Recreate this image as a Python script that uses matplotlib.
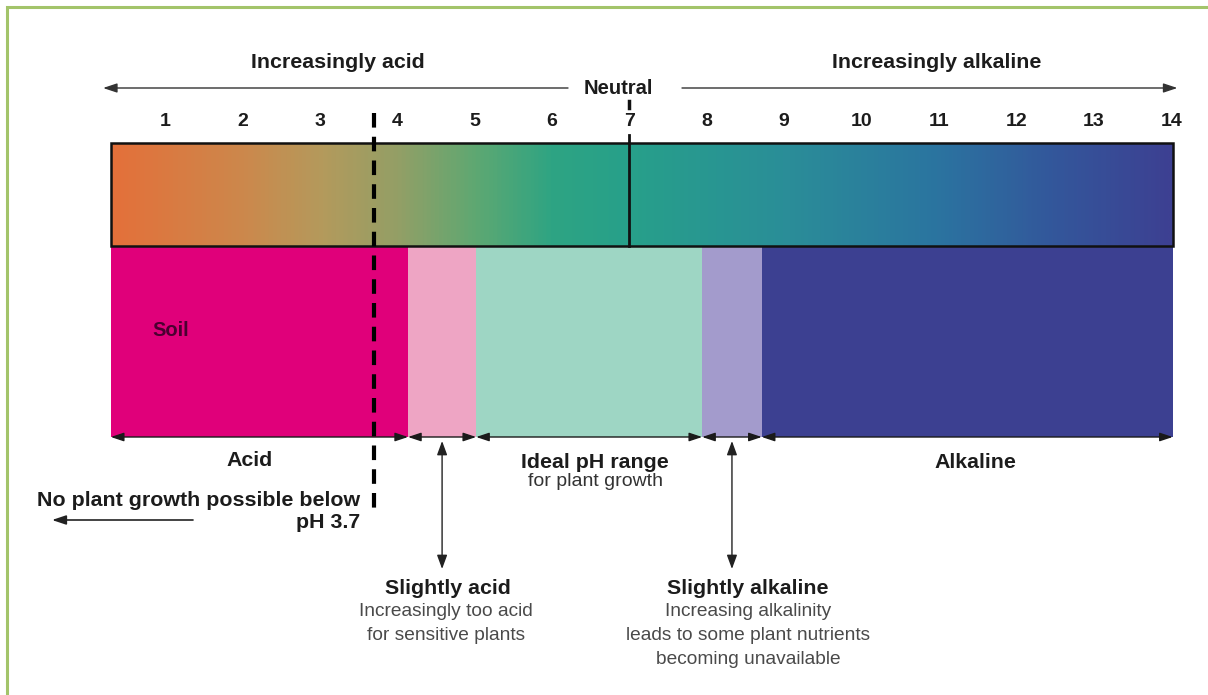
import numpy as np
import matplotlib
matplotlib.use("Agg")
import matplotlib.pyplot as plt
from matplotlib.colors import LinearSegmentedColormap
from matplotlib.patches import Rectangle

plt.rcParams['font.family'] = ['Liberation Sans', 'DejaVu Sans']

# pH scale numbers
ph_ticks = list(range(1, 15))

# soil bands along the pH axis
band_names  = ["Acid", "Slightly acid", "Ideal", "Slightly alkaline", "Alkaline"]
band_edges  = [0.3, 4.14, 5.02, 7.94, 8.71, 14.02]
band_colors = ["#e0007a", "#eea5c4", "#9ed6c4", "#a39bcc", "#3c4091"]

# colour stops of the indicator bar
grad_ph     = [0.3, 2.0, 3.0, 4.0, 5.0, 6.0, 7.0, 9.0, 11.0, 12.5, 14.02]
grad_colors = ["#e4703a", "#cc884c", "#b49a5c", "#939f66", "#5ea872", "#2ea483",
               "#27a08a", "#2a8e98", "#2b74a0", "#33579b", "#3d4092"]

neutral_ph    = 7.0
min_growth_ph = 3.7

# layout (vertical positions, px from top)
W, H = 1208, 695
PX0, PXU = 165, 77.4          # pixel of pH 1, pixels per pH unit
bar_top, bar_bot, band_bot = 143, 246, 437

def px(p):
    return (p - PX0) / PXU + 1

fig = plt.figure(figsize=(W / 100, H / 100), dpi=100)
ax = fig.add_axes([0, 0, 1, 1])

# gradient indicator bar
lo, hi = grad_ph[0], grad_ph[-1]
stops = [(p - lo) / (hi - lo) for p in grad_ph]
cmap = LinearSegmentedColormap.from_list("ph", list(zip(stops, grad_colors)))
xs = np.linspace(lo, hi, 800)
ax.imshow(xs[None, :], cmap=cmap, vmin=lo, vmax=hi, aspect='auto',
          extent=[lo, hi, bar_bot, bar_top], interpolation='bilinear', zorder=1)
ax.add_patch(Rectangle((lo, bar_top), hi - lo, bar_bot - bar_top, fill=False,
                       ec='#111111', lw=1.8, zorder=3))

# soil bands
lefts = np.array(band_edges[:-1])
widths = np.diff(band_edges)
ax.barh((bar_bot + band_bot) / 2, widths, left=lefts, height=band_bot - bar_bot,
        color=band_colors, lw=0, zorder=1)

# neutral marker
ax.plot([neutral_ph, neutral_ph], [135, bar_bot], color='#111111', lw=2, zorder=4)
ax.plot([neutral_ph, neutral_ph], [101, 108], color='#111111', lw=2.5, zorder=4)

# minimum growth dashed line
ax.plot([min_growth_ph, min_growth_ph], [113, 510], color='black', lw=3,
        linestyle=(0, (3.5, 2.2)), zorder=5)

bold = dict(fontweight='bold', color='#1c1c1c')
reg = dict(color='#4a4a4a')

# top arrows and headings
arr = dict(arrowstyle='-|>,head_length=0.6,head_width=0.2', color='#333333', lw=1,
           mutation_scale=14, shrinkA=0, shrinkB=0)
ax.annotate('', xy=(lo - 0.1, 88), xytext=(px(568), 88), arrowprops=arr)
ax.annotate('', xy=(14.08, 88), xytext=(px(682), 88), arrowprops=arr)
ax.text(px(338), 62, "Increasingly acid", ha='center', va='center', fontsize=15.4, **bold)
ax.text(px(937), 62, "Increasingly alkaline", ha='center', va='center', fontsize=15.4, **bold)
ax.text(px(618), 89, "Neutral", ha='center', va='center', fontsize=14.5, **bold)

for t in ph_ticks:
    ax.text(t, 122, str(t), ha='center', va='center', fontsize=14, **bold)

ax.text(px(171), 330, "Soil", ha='center', va='center', fontsize=14.5,
        fontweight='bold', color='#4a0030')

# double arrows under the bands
dbl = dict(arrowstyle='<|-|>,head_length=0.6,head_width=0.2', color='#1a1a1a', lw=1,
           mutation_scale=13, shrinkA=0, shrinkB=0)
for a, b in zip(band_edges[:-1], band_edges[1:]):
    ax.annotate('', xy=(a, band_bot), xytext=(b, band_bot), arrowprops=dbl)

mids = [(a + b) / 2 for a, b in zip(band_edges[:-1], band_edges[1:])]

ax.text(px(250), 461, "Acid", ha='center', va='center', fontsize=15.4, **bold)
ax.text(px(595), 462, "Ideal pH range", ha='center', va='center', fontsize=15.4, **bold)
ax.text(px(595), 481, "for plant growth", ha='center', va='center', fontsize=14, color='#333333')
ax.text(px(975), 462, "Alkaline", ha='center', va='center', fontsize=15.4, **bold)

# no growth note
ax.text(px(360), 500, "No plant growth possible below", ha='right', va='center',
        fontsize=15.4, **bold)
ax.text(px(360), 522, "pH 3.7", ha='right', va='center', fontsize=15.4, **bold)
ax.annotate('', xy=(px(52), 520), xytext=(px(193), 520),
            arrowprops=dict(arrowstyle='-|>,head_length=0.6,head_width=0.2',
                            color='#222222', lw=1.2, mutation_scale=14,
                            shrinkA=0, shrinkB=0))

# vertical callouts
vdbl = dict(arrowstyle='<|-|>,head_length=0.6,head_width=0.22', color='#222222', lw=1,
            mutation_scale=14, shrinkA=0, shrinkB=0)
ax.annotate('', xy=(mids[1], 441), xytext=(mids[1], 569), arrowprops=vdbl)
ax.annotate('', xy=(mids[3], 441), xytext=(mids[3], 569), arrowprops=vdbl)

ax.text(px(448), 588, "Slightly acid", ha='center', va='center', fontsize=15.4, **bold)
ax.text(px(446), 612, "Increasingly too acid", ha='center', va='center', fontsize=13.8, **reg)
ax.text(px(446), 636, "for sensitive plants", ha='center', va='center', fontsize=13.8, **reg)

ax.text(px(748), 589, "Slightly alkaline", ha='center', va='center', fontsize=15.4, **bold)
ax.text(px(748), 611, "Increasing alkalinity", ha='center', va='center', fontsize=13.8, **reg)
ax.text(px(748), 636, "leads to some plant nutrients", ha='center', va='center', fontsize=13.8, **reg)
ax.text(px(748), 659, "becoming unavailable", ha='center', va='center', fontsize=13.8, **reg)

ax.set_xlim(px(0), px(W))
ax.set_ylim(H, 0)
ax.axis('off')

# green frame (top and left edges visible)
fig.add_artist(Rectangle((7 / W, -0.1), 1.2, (H - 7) / H + 0.1,
                         transform=fig.transFigure, fill=False,
                         ec='#a3c46a', lw=2.2))

fig.savefig("out.png", dpi=100)
